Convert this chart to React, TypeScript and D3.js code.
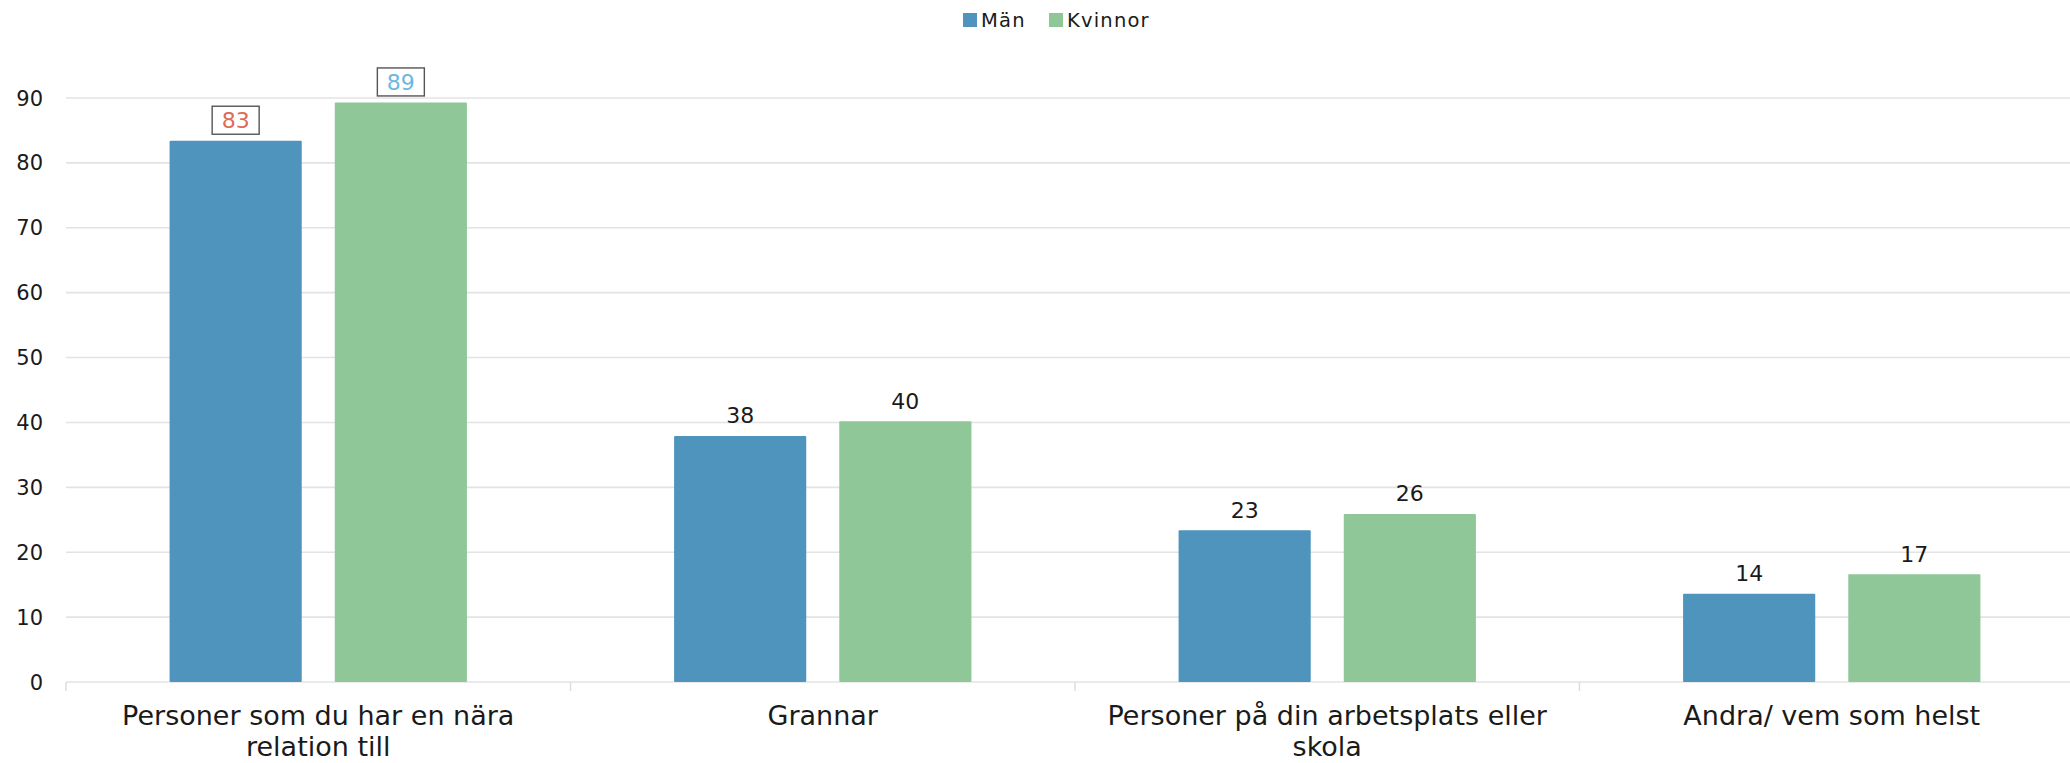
import * as d3 from 'd3';
import React from 'react';

// categories and the two series
const categories = ['Personer som du har en nära relation till', 'Grannar', 'Personer på din arbetsplats eller skola', 'Andra/ vem som helst'];
const tickLines = [
  ['Personer som du har en nära', 'relation till'],
  ['Grannar'],
  ['Personer på din arbetsplats eller', 'skola'],
  ['Andra/ vem som helst'],
];
const seriesNames = ['Män', 'Kvinnor'];
const man = [83.4, 37.9, 23.4, 13.6];
const kvinnor = [89.3, 40.2, 25.9, 16.6];
const yTicks = [0, 10, 20, 30, 40, 50, 60, 70, 80, 90];

const colors = { Män: '#4f94bd', Kvinnor: '#8fc799' };
// the two highlighted labels on the first group
const boxed = { 'Män-0': '#e06a55', 'Kvinnor-0': '#6db6e2' };

const FONT = '"DejaVu Sans", Verdana, sans-serif';

const App = () => {
  const width = 2070;
  const height = 763;
  const marginLeft = 66;
  const plotRight = 2084; // the last group runs off the right edge like in the original
  const y0 = 682;
  const yTop = 98;

  const rows = categories.map((c, i) => ({ cat: c, Män: man[i], Kvinnor: kvinnor[i] }));

  const x = d3.scaleBand().domain(categories).range([marginLeft, plotRight]).padding(0);
  const xInner = d3
    .scaleBand()
    .domain(seriesNames)
    .range([0, x.bandwidth()])
    .paddingInner(0.2)
    .paddingOuter(0.627);
  const y = d3.scaleLinear().domain([0, 90]).range([y0, yTop]);

  const bounds = categories.map((c) => x(c)).concat([plotRight]);

  return (
    <svg width={width} height={height} style={{ position: 'absolute', left: 0, top: 0, background: '#fff' }}>
      {/* legend */}
      <g fontFamily={FONT} fontSize={19.5} letterSpacing={1.2} fill="#1a1a1a">
        <rect x={963} y={13} width={14} height={14} fill={colors['Män']} />
        <text x={981} y={27.3}>Män</text>
        <rect x={1049} y={13} width={14} height={14} fill={colors['Kvinnor']} />
        <text x={1067} y={27.3}>Kvinnor</text>
      </g>

      {/* grid */}
      <g stroke="#e3e3e3" strokeWidth={1.6}>
        {yTicks.map((t) => (
          <line key={t} x1={marginLeft} x2={width} y1={y(t)} y2={y(t)} />
        ))}
      </g>
      <g stroke="#dcdcdc" strokeWidth={1.4}>
        {bounds.map((b, i) => (
          <line key={i} x1={b} x2={b} y1={y0} y2={y0 + 9} />
        ))}
      </g>

      {/* y tick labels */}
      <g fontFamily={FONT} fontSize={21} fill="#1a1a1a" textAnchor="end">
        {yTicks.map((t) => (
          <text key={t} x={43} y={y(t)} dy="0.36em">
            {t}
          </text>
        ))}
      </g>

      {/* bars */}
      {rows.map((r, i) => (
        <g key={r.cat} transform={`translate(${x(r.cat)},0)`}>
          {seriesNames.map((s) => (
            <rect
              key={s}
              x={xInner(s)}
              y={y(r[s])}
              width={xInner.bandwidth()}
              height={y0 - y(r[s])}
              fill={colors[s]}
              rx={1}
            />
          ))}
          {seriesNames.map((s) => {
            const cx = xInner(s) + xInner.bandwidth() / 2;
            const base = y(r[s]) - 12.6;
            const key = `${s}-${i}`;
            const label = Math.round(r[s]);
            if (boxed[key]) {
              return (
                <g key={key}>
                  <rect x={cx - 23.5} y={base - 22} width={47} height={28} fill="#fff" stroke="#555" strokeWidth={1.4} />
                  <text x={cx} y={base} textAnchor="middle" fontFamily={FONT} fontSize={22} fill={boxed[key]}>
                    {label}
                  </text>
                </g>
              );
            }
            return (
              <text key={key} x={cx} y={base} textAnchor="middle" fontFamily={FONT} fontSize={22} fill="#1a1a1a">
                {label}
              </text>
            );
          })}
        </g>
      ))}

      {/* x tick labels */}
      <g fontFamily={FONT} fontSize={27} fill="#1a1a1a" textAnchor="middle">
        {categories.map((c, i) => (
          <text key={c} x={x(c) + x.bandwidth() / 2} y={725}>
            {tickLines[i].map((l, j) => (
              <tspan key={j} x={x(c) + x.bandwidth() / 2} dy={j === 0 ? 0 : 31}>
                {l}
              </tspan>
            ))}
          </text>
        ))}
      </g>
    </svg>
  );
};

export default App;
